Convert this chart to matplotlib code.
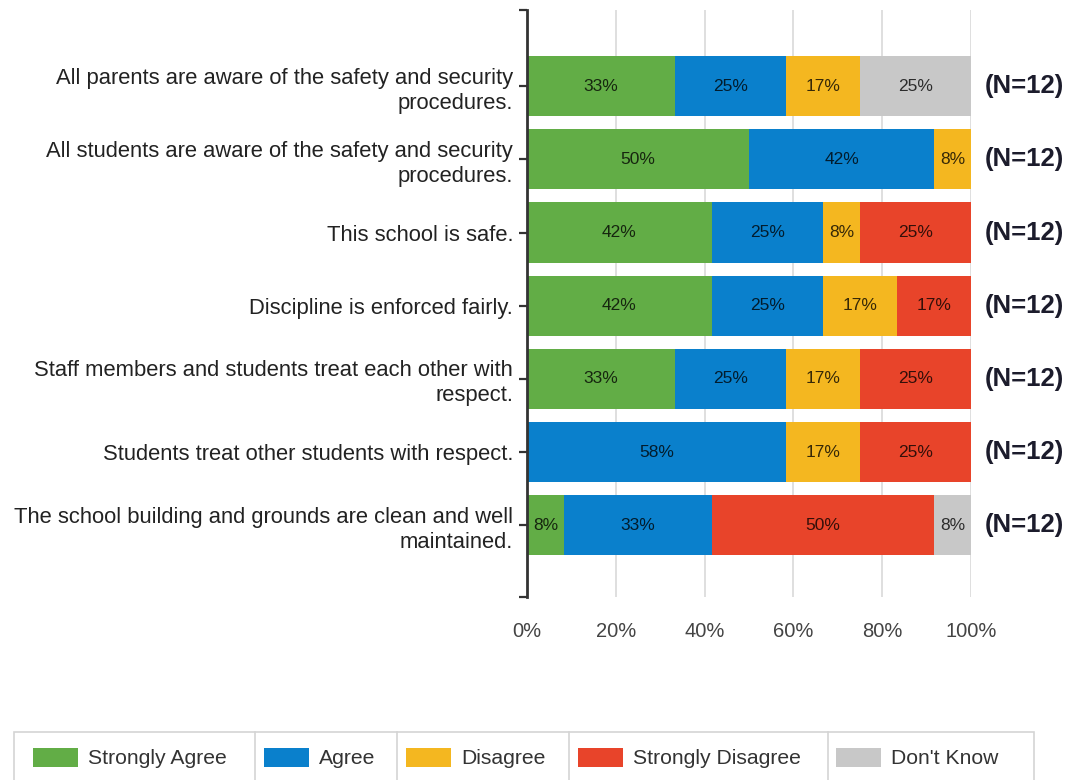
import matplotlib
matplotlib.use("Agg")
import matplotlib.pyplot as plt
from matplotlib.patches import Rectangle
from matplotlib.lines import Line2D
import numpy as np

plt.rcParams["font.family"] = ["Liberation Sans", "DejaVu Sans"]

# Survey statements (top to bottom)
questions = [
    "All parents are aware of the safety and security\nprocedures.",
    "All students are aware of the safety and security\nprocedures.",
    "This school is safe.",
    "Discipline is enforced fairly.",
    "Staff members and students treat each other with\nrespect.",
    "Students treat other students with respect.",
    "The school building and grounds are clean and well\nmaintained.",
]

categories = ["Strongly Agree", "Agree", "Disagree", "Strongly Disagree", "Don't Know"]
colors = ["#62AD46", "#0A80CC", "#F4B720", "#E8442A", "#C8C8C8"]

# Response counts per statement
strongly_agree = [4, 6, 5, 5, 4, 0, 1]
agree = [3, 5, 3, 3, 3, 7, 4]
disagree = [2, 1, 1, 2, 2, 2, 0]
strongly_disagree = [0, 0, 3, 2, 3, 3, 6]
dont_know = [3, 0, 0, 0, 0, 0, 1]
respondents = [12, 12, 12, 12, 12, 12, 12]

x_ticks = [0, 20, 40, 60, 80, 100]
x_tick_labels = ["0%", "20%", "40%", "60%", "80%", "100%"]

W, H = 1068, 780
fig = plt.figure(figsize=(W / 100, H / 100), dpi=100)
fig.patch.set_facecolor("white")

ax_left, ax_right, ax_top, ax_bottom = 527, 971, 10, 597
ax = fig.add_axes([ax_left / W, 1 - ax_bottom / H,
                   (ax_right - ax_left) / W, (ax_bottom - ax_top) / H])

counts = np.array([strongly_agree, agree, disagree, strongly_disagree, dont_know], dtype=float)
n = np.array(respondents, dtype=float)
shares = counts / n * 100
y = np.arange(len(questions))

left = np.zeros(len(questions))
for k, cat in enumerate(categories):
    vals = shares[k]
    ax.barh(y, vals, left=left, height=0.82, color=colors[k], zorder=3, linewidth=0)
    dark = tuple(np.array(matplotlib.colors.to_rgb(colors[k])) * 0.22)
    for i, v in enumerate(vals):
        if v > 0:
            ax.text(left[i] + v / 2, y[i], f"{round(v):.0f}%", ha="center", va="center",
                    fontsize=12.5, color=dark, zorder=4)
    left = left + vals

for i, nn in enumerate(respondents):
    ax.text(103.2, y[i], f"(N={nn})", ha="left", va="center", fontsize=18.5,
            fontweight="bold", color="#1c1c2c", clip_on=False)

ax.set_xlim(0, 100)
ax.set_ylim(6.98, -1.04)
ax.set_yticks(y)
ax.set_yticklabels(questions, fontsize=15.8, color="#222222", linespacing=1.25)
ax.set_yticks([6.98, -1.04], minor=True)
ax.tick_params(axis="y", which="both", direction="out", length=6, width=1.6, color="#333333", pad=4)
ax.set_xticks(x_ticks)
ax.set_xticklabels(x_tick_labels, fontsize=14.5, color="#444444")
ax.tick_params(axis="x", length=0, pad=18)
ax.grid(axis="x", color="#D9D9D9", linewidth=1.2, zorder=0)
for s in ["top", "right", "bottom"]:
    ax.spines[s].set_visible(False)
ax.spines["left"].set_color("#333333")
ax.spines["left"].set_linewidth(2)
ax.spines["left"].set_zorder(5)

# Legend strip with boxed entries
lg = fig.add_axes([0, 0, 1, 1], zorder=-1)
lg.set_xlim(0, W)
lg.set_ylim(H, 0)
lg.axis("off")
box_top = 732
cell_edges = [14, 255, 397, 569, 828, 1034]
patch_x = [33, 264, 406, 578, 836]
lg.add_patch(Rectangle((cell_edges[0], box_top), cell_edges[-1] - cell_edges[0], 60,
                       facecolor="white", edgecolor="#D4D4D4", linewidth=1.2))
for xe in cell_edges[1:-1]:
    lg.add_line(Line2D([xe, xe], [box_top, H + 5], color="#D4D4D4", linewidth=1.2))
for k, cat in enumerate(categories):
    lg.add_patch(Rectangle((patch_x[k], 748), 45, 19, facecolor=colors[k], edgecolor="none"))
    lg.text(patch_x[k] + 55, 758, cat, ha="left", va="center", fontsize=15.2, color="#333333")

fig.savefig("out.png", dpi=100, facecolor="white")
